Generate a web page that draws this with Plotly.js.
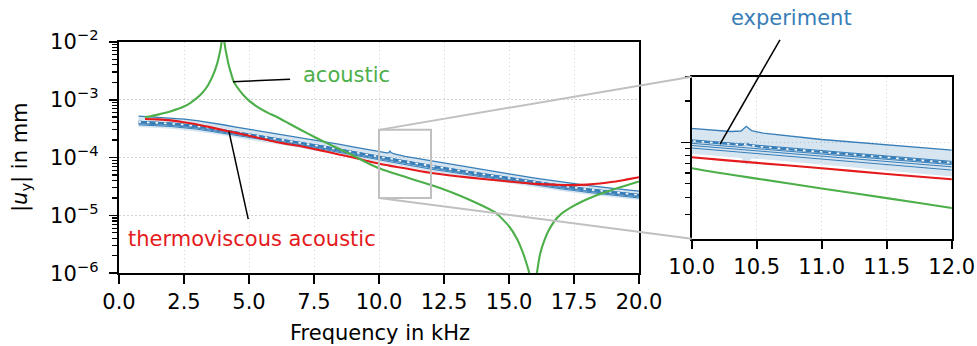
<!DOCTYPE html>
<html><head><meta charset="utf-8">
<script src="https://cdn.plot.ly/plotly-3.0.1.min.js"></script>
<style>html,body{margin:0;padding:0;background:#fff;} #chart{width:977px;height:346px;}</style>
</head><body><div id="chart"></div>
<script>
// ---------------- data ----------------
const freqGreen = [1.0,1.25,1.5,1.75,2.0,2.25,2.5,2.75,3.0,3.2,3.4,3.5,3.6,3.7,3.8,3.85,3.9,3.93,3.96,4.0,4.04,4.07,4.1,4.15,4.2,4.3,4.4,4.5,4.65,4.8,5.0,5.25,5.5,5.75,6.0,6.5,7.0,7.5,8.0,8.5,9.0,9.5,10.0,10.5,11.0,11.5,12.0,12.5,13.0,13.5,14.0,14.5,15.0,15.3,15.5,15.65,15.78,15.88,15.93,15.98,16.07,16.2,16.35,16.5,16.75,17.0,17.5,18.0,18.5,19.0,19.5,20.0];
const ampGreen = [5.0e-4,5.2e-4,5.5e-4,5.85e-4,6.3e-4,6.85e-4,7.6e-4,8.8e-4,1.07e-3,1.3e-3,1.7e-3,2.05e-3,2.55e-3,3.3e-3,4.6e-3,5.7e-3,7.3e-3,8.8e-3,1.1e-2,3.0e-2,1.1e-2,8.8e-3,7.2e-3,5.6e-3,4.3e-3,2.95e-3,2.1e-3,1.75e-3,1.42e-3,1.18e-3,9.6e-4,7.9e-4,6.7e-4,5.85e-4,5.2e-4,3.95e-4,2.98e-4,2.28e-4,1.77e-4,1.39e-4,1.08e-4,8.3e-5,6.5e-5,5.46e-5,4.63e-5,3.94e-5,3.34e-5,2.8e-5,2.3e-5,1.85e-5,1.45e-5,1.1e-5,6.5e-6,4.0e-6,2.5e-6,1.6e-6,1.0e-6,5e-7,1e-7,5e-7,1.0e-6,2.2e-6,3.6e-6,5.2e-6,8.0e-6,1.05e-5,1.47e-5,1.9e-5,2.35e-5,2.8e-5,3.3e-5,3.85e-5];

const freqRed = [1.0,1.5,2.0,2.5,3.0,3.5,4.0,4.5,5.0,5.5,6.0,6.5,7.0,7.5,8.0,8.5,9.0,9.5,10.0,10.5,11.0,11.5,12.0,13.0,14.0,15.0,16.0,17.0,17.5,18.0,18.5,19.0,19.5,20.0];
const ampRed = [4.62e-4,4.55e-4,4.38e-4,4.05e-4,3.72e-4,3.35e-4,2.97e-4,2.66e-4,2.37e-4,2.1e-4,1.87e-4,1.7e-4,1.56e-4,1.4e-4,1.26e-4,1.12e-4,1.0e-4,8.8e-5,7.8e-5,7.1e-5,6.5e-5,5.9e-5,5.4e-5,4.75e-5,4.25e-5,3.85e-5,3.5e-5,3.35e-5,3.33e-5,3.4e-5,3.55e-5,3.8e-5,4.15e-5,4.55e-5];

const freqExp = [0.75,1,1.5,2,2.5,3,3.5,4,4.5,5,5.5,6,6.5,7,7.5,8,8.5,9,9.5,10,10.3,10.38,10.42,10.46,10.55,11,11.5,12,13,14,15,16,17,18,19,20];
const expMean = [4.12e-4,4.07e-4,3.98e-4,3.85e-4,3.67e-4,3.47e-4,3.24e-4,2.95e-4,2.69e-4,2.48e-4,2.29e-4,2.11e-4,1.95e-4,1.8e-4,1.64e-4,1.5e-4,1.36e-4,1.24e-4,1.12e-4,1.02e-4,9.72e-5,9.6e-5,9.75e-5,9.5e-5,9.25e-5,8.5e-5,7.76e-5,7.11e-5,6.03e-5,5.13e-5,4.37e-5,3.72e-5,3.24e-5,2.82e-5,2.51e-5,2.25e-5];
const expUpper = [5.2e-4,5.12e-4,5.0e-4,4.83e-4,4.6e-4,4.34e-4,4.05e-4,3.68e-4,3.35e-4,3.08e-4,2.84e-4,2.61e-4,2.41e-4,2.22e-4,2.02e-4,1.85e-4,1.68e-4,1.53e-4,1.38e-4,1.26e-4,1.2e-4,1.21e-4,1.31e-4,1.22e-4,1.17e-4,1.05e-4,9.6e-5,8.75e-5,7.3e-5,6.15e-5,5.2e-5,4.4e-5,3.8e-5,3.3e-5,2.93e-5,2.62e-5];
const expLower = [3.35e-4,3.31e-4,3.24e-4,3.13e-4,2.98e-4,2.82e-4,2.63e-4,2.4e-4,2.19e-4,2.02e-4,1.86e-4,1.72e-4,1.59e-4,1.46e-4,1.33e-4,1.22e-4,1.11e-4,1.01e-4,9.1e-5,8.3e-5,7.9e-5,7.7e-5,6.8e-5,7.6e-5,7.55e-5,6.9e-5,6.3e-5,5.65e-5,4.9e-5,4.17e-5,3.55e-5,3.02e-5,2.63e-5,2.3e-5,2.04e-5,1.85e-5];

const freqThin = [0.75,1,2,3,4,5,6,7,8,9,10,11,12,13,14,15,16,17,18,19,20];
const expRunA = [3.98e-4,3.93e-4,3.72e-4,3.35e-4,2.85e-4,2.39e-4,2.04e-4,1.74e-4,1.45e-4,1.2e-4,9.85e-5,8.2e-5,6.9e-5,5.82e-5,4.95e-5,4.22e-5,3.59e-5,3.13e-5,2.72e-5,2.42e-5,2.17e-5];
const expRunB = [3.83e-4,3.79e-4,3.58e-4,3.23e-4,2.74e-4,2.31e-4,1.96e-4,1.67e-4,1.4e-4,1.15e-4,9.5e-5,7.9e-5,6.65e-5,5.61e-5,4.77e-5,4.06e-5,3.46e-5,3.01e-5,2.62e-5,2.33e-5,2.09e-5];
const expRunC = [3.67e-4,3.62e-4,3.43e-4,3.09e-4,2.63e-4,2.21e-4,1.88e-4,1.6e-4,1.34e-4,1.1e-4,9.1e-5,7.57e-5,6.3e-5,5.37e-5,4.57e-5,3.89e-5,3.31e-5,2.88e-5,2.51e-5,2.23e-5,2.0e-5];
const expRunD = [4.22e-4,4.17e-4,3.95e-4,3.56e-4,3.02e-4,2.54e-4,2.16e-4,1.85e-4,1.54e-4,1.27e-4,1.045e-4,8.71e-5,7.29e-5,6.18e-5,5.26e-5,4.48e-5,3.81e-5,3.32e-5,2.89e-5,2.57e-5,2.31e-5];

const mainXTicks = [0,2.5,5,7.5,10,12.5,15,17.5,20];
const mainYTicks = [1e-6,1e-5,1e-4,1e-3,1e-2];
const mainYTickText = ['10<sup>−6</sup>','10<sup>−5</sup>','10<sup>−4</sup>','10<sup>−3</sup>','10<sup>−2</sup>'];
const insetXTicks = [10,10.5,11,11.5,12];
const insetYTicks = [1e-4];
const xTitle = 'Frequency in kHz';
const yTitle = '|<i>u</i><sub>y</sub>| in mm';
const labelAcoustic = 'acoustic';
const labelThermo = 'thermoviscous acoustic';
const labelExp = 'experiment';

// ---------------- style / layout ----------------
const BLUE='#377eb8', RED='#e41a1c', GREEN='#4daf4a', FILL='rgba(55,126,184,0.2)', GRAY='#c0c0c0';
const FONT='DejaVu Sans', FS=21;
const W=977, H=346;
const MAIN_PX={l:119,r:639,t:41.7,b:273.3};
const INSET_PX={l:691.7,r:951.7,t:76.7,b:238.7};
const MAIN_XR=[0,20], MAIN_YR=[-6,-2];
const ZOOM_Y=[2e-5,3e-4];
const INSET_XR=[10,12], INSET_YR=[Math.log10(ZOOM_Y[0]),Math.log10(ZOOM_Y[1])];
function dom(p){return {x:[p.l/W,p.r/W], y:[1-p.b/H,1-p.t/H]};}
const mainDom=dom(MAIN_PX), insetDom=dom(INSET_PX);
function toPaper(d,xr,yr,f,v){return [d.x[0]+(f-xr[0])/(xr[1]-xr[0])*(d.x[1]-d.x[0]), d.y[0]+(Math.log10(v)-yr[0])/(yr[1]-yr[0])*(d.y[1]-d.y[0])];}
const mP=(f,v)=>toPaper(mainDom,MAIN_XR,MAIN_YR,f,v);
const iP=(f,v)=>toPaper(insetDom,INSET_XR,INSET_YR,f,v);
const pxP=(x,y)=>[x/W,1-y/H];

function minorVals(lo,hi){const out=[];for(let k=lo;k<=hi;k++){for(let m=2;m<=9;m++){out.push(m*Math.pow(10,k));}}return out;}

function traces(xa,ya){
  const b={xaxis:xa,yaxis:ya,mode:'lines',showlegend:false,hoverinfo:'skip'};
  return [
    {...b,x:freqExp,y:expLower,line:{width:0,color:FILL}},
    {...b,x:freqExp,y:expUpper,fill:'tonexty',fillcolor:FILL,line:{width:0,color:FILL}},
    {...b,x:freqThin,y:expRunA,line:{width:1,color:BLUE}},
    {...b,x:freqThin,y:expRunB,line:{width:1,color:BLUE}},
    {...b,x:freqThin,y:expRunC,line:{width:1,color:BLUE}},
    {...b,x:freqThin,y:expRunD,line:{width:1,color:BLUE}},
    {...b,x:freqExp,y:expUpper,line:{width:1.3,color:BLUE}},
    {...b,x:freqExp,y:expMean,line:{width:2.2,color:BLUE}},
    {...b,x:freqExp,y:expMean,line:{width:1.6,color:'#ffffff',dash:'2.5px,6px'}},
    {...b,x:freqRed,y:ampRed,line:{width:2.1,color:RED,shape:'spline',smoothing:0.6}},
    {...b,x:freqGreen,y:ampGreen,line:{width:2.1,color:GREEN,shape:'spline',smoothing:0.6}}
  ];
}
const data=[...traces('x','y'),...traces('x2','y2')];

const ax={showline:true,linecolor:'#000',linewidth:1.8,mirror:true,ticks:'outside',ticklen:8.5,tickwidth:1.8,tickcolor:'#000',
  showgrid:true,gridcolor:'#d2d2d2',gridwidth:1,griddash:'1.5px,2.5px',zeroline:false,fixedrange:true,
  tickfont:{family:FONT,size:FS,color:'#000'}};
const minorStyle={tickmode:'array',ticks:'outside',ticklen:5,tickwidth:1.2,tickcolor:'#000',showgrid:false};

const line=(p0,p1,color,width)=>({type:'line',xref:'paper',yref:'paper',x0:p0[0],y0:p0[1],x1:p1[0],y1:p1[1],line:{color:color,width:width},layer:'above'});
const rTL=mP(INSET_XR[0],ZOOM_Y[1]), rBR=mP(INSET_XR[1],ZOOM_Y[0]), rBL=mP(INSET_XR[0],ZOOM_Y[0]);
const shapes=[
  {type:'rect',xref:'paper',yref:'paper',x0:rTL[0],y0:rBR[1],x1:rBR[0],y1:rTL[1],line:{color:GRAY,width:2},layer:'above'},
  line(rTL,[insetDom.x[0],insetDom.y[1]],GRAY,2),
  line(rBL,[insetDom.x[0],insetDom.y[0]],GRAY,2),
  line(mP(4.385,2.04e-3),mP(6.58,2.24e-3),'#000',1.5),
  line(mP(4.23,2.79e-4),mP(4.97,8.6e-6),'#000',1.5),
  line(iP(10.218,9.7e-5),iP(10.679,5.56e-4),'#000',1.5)
];
function ann(p,text,color,xanchor,extra){return Object.assign({xref:'paper',yref:'paper',x:p[0],y:p[1],text:text,showarrow:false,xanchor:xanchor,yanchor:'middle',font:{family:FONT,size:FS,color:color}},extra||{});}
const annotations=[
  ann(mP(7.0,2.66e-3),labelAcoustic,GREEN,'left'),
  ann(mP(5.13,3.9e-6),labelThermo,RED,'center'),
  ann(iP(10.77,8.0e-4),labelExp,BLUE,'center'),
  ann(pxP(379.5,333),xTitle,'#000','center'),
  ann(pxP(21,157),yTitle,'#000','center',{textangle:-90})
];

const layout={width:W,height:H,margin:{l:0,r:0,t:0,b:0},paper_bgcolor:'#fff',plot_bgcolor:'#fff',
  font:{family:FONT,size:FS,color:'#000'},showlegend:false,
  xaxis:{...ax,domain:mainDom.x,anchor:'y',range:MAIN_XR,tickmode:'array',tickvals:mainXTicks,tickformat:'.1f'},
  yaxis:{...ax,type:'log',domain:mainDom.y,anchor:'x',range:MAIN_YR,tickmode:'array',tickvals:mainYTicks,ticktext:mainYTickText,
    ticklabelstandoff:6,minor:{...minorStyle,tickvals:minorVals(-6,-3)}},
  xaxis2:{...ax,domain:insetDom.x,anchor:'y2',range:INSET_XR,tickmode:'array',tickvals:insetXTicks,tickformat:'.1f'},
  yaxis2:{...ax,type:'log',domain:insetDom.y,anchor:'x2',range:INSET_YR,tickmode:'array',tickvals:insetYTicks,showticklabels:false,
    minor:{...minorStyle,tickvals:minorVals(-5,-4)}},
  shapes:shapes,annotations:annotations};
Plotly.newPlot('chart',data,layout,{staticPlot:true,displayModeBar:false});
</script></body></html>
